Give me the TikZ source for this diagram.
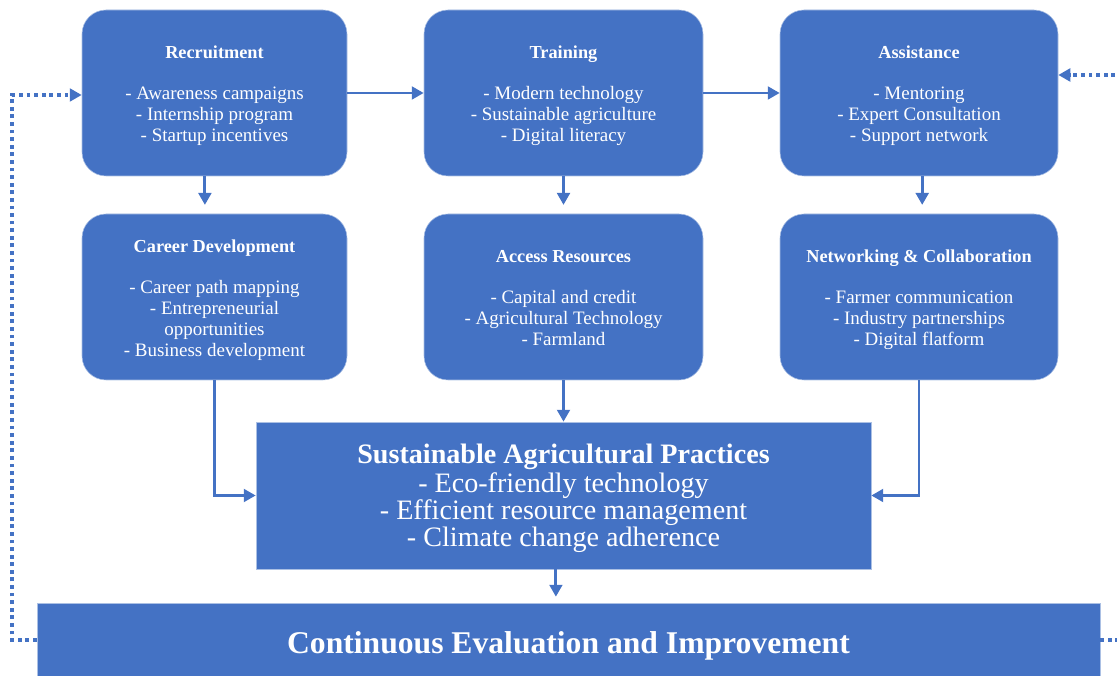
\documentclass[tikz,border=0pt]{standalone}
\usepackage{fontspec}
\setmainfont{Liberation Serif}
\usetikzlibrary{arrows.meta}
\definecolor{boxblue}{HTML}{4472C4}
\tikzstyle{box}=[rectangle,rounded corners=0.6cm,fill=boxblue,draw=boxblue!45!white,line width=0.4pt,text=white,align=center,minimum height=4.15cm,inner sep=0pt,text depth=3pt,font=\fontsize{13.5}{15}\selectfont]
\tikzstyle{flatbox}=[rectangle,fill=boxblue,draw=boxblue!45!white,line width=0.4pt,text=white,align=center,inner sep=0pt]
\tikzstyle{edge}=[draw,line width=2.1pt,boxblue,-{Triangle[length=8.5pt,width=9pt]}]
\tikzstyle{loopedge}=[draw,line width=2.7pt,boxblue,dash pattern=on 2.7pt off 2.7pt,-{Triangle[length=8.5pt,width=9pt]}]
\newcommand{\boxtitle}[1]{{\fontsize{13}{15}\selectfont\bfseries\rule{0pt}{13.5pt}#1}\\[14pt]}

\begin{document}
\begin{tikzpicture}
	\useasboundingbox (0,0) rectangle (27.925,16.9);
	\clip (0,0) rectangle (27.925,16.9);
	
	\node[box, minimum width=6.625cm] (rec) at (5.3625,14.575) {\boxtitle{Recruitment}- Awareness campaigns\\- Internship program\\- Startup incentives};
	\node[box, minimum width=6.975cm] (tra) at (14.0875,14.575) {\boxtitle{Training}- Modern technology\\- Sustainable agriculture\\- Digital literacy};
	\node[box, minimum width=6.95cm] (ass) at (22.975,14.575) {\boxtitle{Assistance}- Mentoring\\- Expert Consultation\\- Support network};
	\node[box, minimum width=6.625cm] (car) at (5.3625,9.475) {\boxtitle{Career Development}- Career path mapping\\- Entrepreneurial\\opportunities\\- Business development};
	\node[box, minimum width=6.975cm] (acc) at (14.0875,9.475) {\boxtitle{Access Resources}- Capital and credit\\- Agricultural Technology\\- Farmland};
	\node[box, minimum width=6.95cm] (net) at (22.975,9.475) {\boxtitle{Networking \& Collaboration}- Farmer communication\\- Industry partnerships\\- Digital flatform};
	
	\node[flatbox, minimum width=15.375cm, minimum height=3.675cm, font=\fontsize{20}{19.3}\selectfont] (sap) at (14.0875,4.5125) {\rule{0pt}{18pt}\textbf{Sustainable Agricultural Practices}\\[1.4pt]- Eco-friendly technology\\- Efficient resource management\\- Climate change adherence};
	\node[flatbox, minimum width=26.575cm, minimum height=2.15cm, font=\fontsize{22.5}{26}\selectfont\bfseries] (cont) at (14.2125,0.75) {Continuous Evaluation and Improvement};
	
	\path[edge] (rec.east) -- (tra.west);
	\path[edge] (tra.east) -- (ass.west);
	\foreach \source/\dest/\shift in {rec/car/-0.24cm, tra/acc/0cm, ass/net/0.08cm}
	\path[edge, shorten >=0.22cm] ([xshift=\shift]\source.south) -- ([xshift=\shift]\dest.north);
	\path[edge] (car.south) |- (sap.west);
	\path[edge] (acc.south) -- (sap.north);
	\path[edge] (net.south) |- (sap.east);
	\path[edge, shorten >=0.15cm] ([xshift=-0.19cm]sap.south) -- ([xshift=-0.19cm]sap.south |- cont.north);
	
	\path[loopedge] ([yshift=0.15cm]cont.west) -- ++(-0.62,0) |- ([yshift=-0.05cm]rec.west);
	\path[loopedge] ([yshift=0.15cm]cont.east) -- ++(1,0) |- ([yshift=0.45cm]ass.east);
\end{tikzpicture}
\end{document}
